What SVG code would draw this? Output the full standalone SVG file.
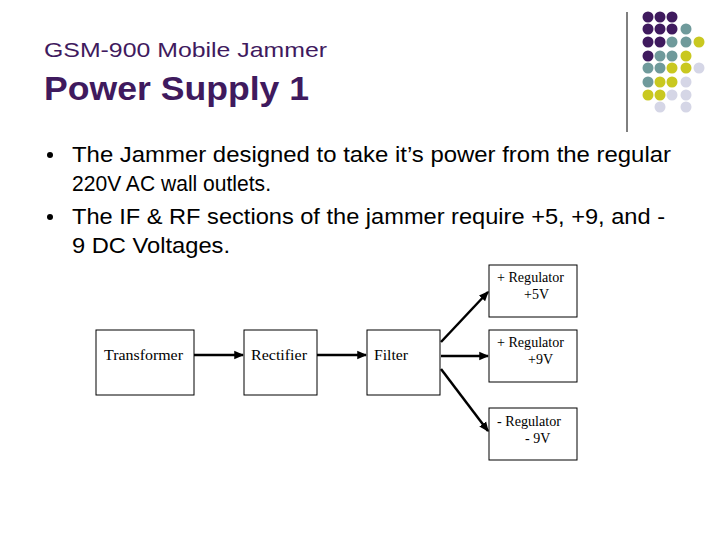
<svg xmlns="http://www.w3.org/2000/svg" width="720" height="540" viewBox="0 0 720 540">
<style>
.b{fill:#fff;stroke:#000;stroke-width:1}
.t{font-family:"Liberation Serif",serif;font-size:14px;fill:#000}
.s{font-family:"Liberation Sans",Arial,sans-serif;fill:#000}
.c{stroke:#000;stroke-width:2.5;fill:none;marker-end:url(#a)}
.P{fill:#3f1a5e}.T{fill:#6f9a9b}.Y{fill:#c9c820}.L{fill:#d5d6e6}
</style>
<defs><marker id="a" markerWidth="4" markerHeight="4" refX="3.5" refY="2" orient="auto" markerUnits="strokeWidth"><path d="M0,0.3L4,2L0,3.7z" fill="#000"/></marker></defs>
<rect width="720" height="540" fill="#fff"/>
<line x1="627" y1="12" x2="627" y2="132" stroke="#000" stroke-width="1"/>
<g>
<circle class="P" cx="648" cy="17" r="5.5"/><circle class="P" cx="660" cy="17" r="5.5"/><circle class="P" cx="672" cy="17" r="5.5"/>
<circle class="P" cx="648" cy="29" r="5.5"/><circle class="P" cx="660" cy="29" r="5.5"/><circle class="P" cx="672" cy="29" r="5.5"/><circle class="T" cx="686" cy="29" r="5.5"/>
<circle class="P" cx="648" cy="42" r="5.5"/><circle class="P" cx="660" cy="42" r="5.5"/><circle class="T" cx="672" cy="42" r="5.5"/><circle class="T" cx="686" cy="42" r="5.5"/><circle class="Y" cx="699" cy="42" r="5.5"/>
<circle class="P" cx="648" cy="56" r="5.5"/><circle class="T" cx="660" cy="56" r="5.5"/><circle class="T" cx="672" cy="56" r="5.5"/><circle class="Y" cx="686" cy="56" r="5.5"/>
<circle class="T" cx="648" cy="68" r="5.5"/><circle class="T" cx="660" cy="68" r="5.5"/><circle class="Y" cx="672" cy="68" r="5.5"/><circle class="Y" cx="686" cy="68" r="5.5"/><circle class="L" cx="699" cy="68" r="5.5"/>
<circle class="T" cx="648" cy="82" r="5.5"/><circle class="Y" cx="660" cy="82" r="5.5"/><circle class="Y" cx="672" cy="82" r="5.5"/><circle class="L" cx="686" cy="82" r="5.5"/>
<circle class="Y" cx="648" cy="95" r="5.5"/><circle class="Y" cx="660" cy="95" r="5.5"/><circle class="L" cx="672" cy="95" r="5.5"/><circle class="L" cx="686" cy="95" r="5.5"/>
<circle class="L" cx="660" cy="107" r="5.5"/><circle class="L" cx="686" cy="107" r="5.5"/>
</g>
<text class="s" x="44" y="57" font-size="21" textLength="283" lengthAdjust="spacingAndGlyphs" style="fill:#3f1a5e">GSM-900 Mobile Jammer</text>
<text class="s" x="44" y="100" font-size="33" font-weight="bold" textLength="265" lengthAdjust="spacingAndGlyphs" style="fill:#3f1a5e">Power Supply 1</text>
<g class="s" font-size="22">
<circle cx="50" cy="155" r="3"/><circle cx="50" cy="217" r="3"/>
<text x="72" y="162" textLength="599" lengthAdjust="spacingAndGlyphs">The Jammer designed to take it’s power from the regular</text>
<text x="72" y="191" textLength="199" lengthAdjust="spacingAndGlyphs">220V AC wall outlets.</text>
<text x="72" y="224" textLength="593" lengthAdjust="spacingAndGlyphs">The IF &amp; RF sections of the jammer require +5, +9, and -</text>
<text x="72" y="253" textLength="158" lengthAdjust="spacingAndGlyphs">9 DC Voltages.</text>
</g>
<g id="transformer"><rect class="b" x="96" y="330" width="98" height="65"/><text class="t" x="104" y="360" textLength="79" lengthAdjust="spacingAndGlyphs">Transformer</text></g>
<g id="rectifier"><rect class="b" x="244" y="330" width="73" height="65"/><text class="t" x="251" y="360" textLength="56" lengthAdjust="spacingAndGlyphs">Rectifier</text></g>
<g id="filter"><rect class="b" x="367" y="330" width="73" height="65"/><text class="t" x="374" y="360" textLength="34" lengthAdjust="spacingAndGlyphs">Filter</text></g>
<g id="reg5"><rect class="b" x="489" y="265" width="88" height="52"/><text class="t" x="497" y="282" textLength="67" lengthAdjust="spacingAndGlyphs">+ Regulator</text><text class="t" x="524" y="299">+5V</text></g>
<g id="reg9"><rect class="b" x="489" y="330" width="88" height="52"/><text class="t" x="497" y="347" textLength="67" lengthAdjust="spacingAndGlyphs">+ Regulator</text><text class="t" x="528" y="364">+9V</text></g>
<g id="regm9"><rect class="b" x="489" y="408" width="88" height="52"/><text class="t" x="497" y="426" textLength="64" lengthAdjust="spacingAndGlyphs">- Regulator</text><text class="t" x="525" y="443">- 9V</text></g>
<g id="connectors">
<line class="c" x1="194" y1="355" x2="243" y2="355"/>
<line class="c" x1="317" y1="355" x2="366" y2="355"/>
<line class="c" x1="441" y1="342" x2="488" y2="292"/>
<line class="c" x1="441" y1="356" x2="488" y2="356"/>
<line class="c" x1="441" y1="369" x2="488" y2="431"/>
</g>
</svg>
